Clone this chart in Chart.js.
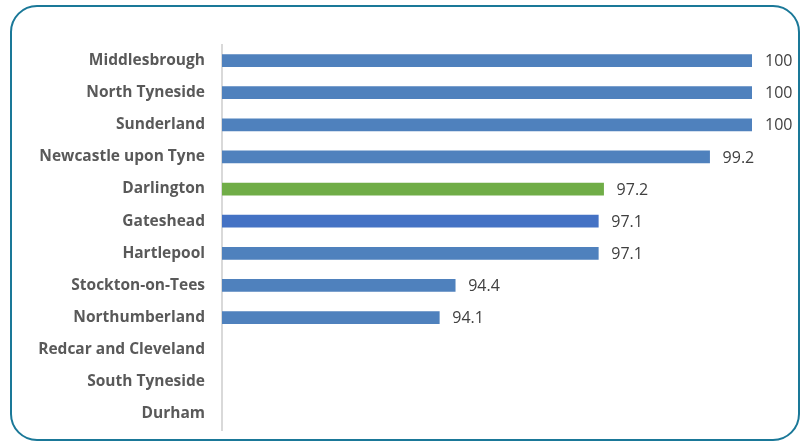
<!DOCTYPE html>
<html>
<head>
<meta charset="utf-8">
<script src="https://cdn.jsdelivr.net/npm/chart.js@4/dist/chart.umd.min.js"></script>
<style>
  html, body { margin: 0; padding: 0; background: #ffffff; }
  #wrap { position: relative; width: 800px; height: 442px; }
</style>
</head>
<body>
<div id="wrap"><canvas id="bar" width="800" height="442"></canvas></div>
<script>
// local authorities, top to bottom
var areas = [
  "Middlesbrough",
  "North Tyneside",
  "Sunderland",
  "Newcastle upon Tyne",
  "Darlington",
  "Gateshead",
  "Hartlepool",
  "Stockton-on-Tees",
  "Northumberland",
  "Redcar and Cleveland",
  "South Tyneside",
  "Durham"
];

// percentage values (no data for the last three)
var values = [100, 100, 100, 99.2, 97.2, 97.1, 97.1, 94.4, 94.1, null, null, null];

// bar colours per row
var barColours = [
  "#4f81bd", "#4f81bd", "#4f81bd", "#4f81bd",
  "#70ad47", "#4472c4", "#4f81bd", "#4f81bd",
  "#4f81bd", "#4f81bd", "#4f81bd", "#4f81bd"
];

// rounded frame round the chart
var framePlugin = {
  id: "frame",
  beforeDraw: function (chart) {
    var ctx = chart.ctx;
    ctx.save();
    ctx.strokeStyle = "#1a7898";
    ctx.lineWidth = 2;
    ctx.beginPath();
    ctx.roundRect(11, 6, 788, 434, 26);
    ctx.stroke();
    ctx.restore();
  }
};

// value labels at the end of each bar
var valueLabels = {
  id: "valueLabels",
  afterDatasetsDraw: function (chart) {
    var ctx = chart.ctx;
    var meta = chart.getDatasetMeta(0);
    ctx.save();
    ctx.font = "16px 'Open Sans', sans-serif";
    ctx.fillStyle = "#404040";
    ctx.textAlign = "left";
    ctx.textBaseline = "middle";
    for (var i = 0; i < values.length; i++) {
      if (values[i] === null) continue;
      var bar = meta.data[i];
      ctx.fillText(String(values[i]), bar.x + 13, bar.y + 1);
    }
    ctx.restore();
  }
};

var ctx = document.getElementById("bar").getContext("2d");
var chart = new Chart(ctx, {
  type: "bar",
  data: {
    labels: areas,
    datasets: [
      {
        data: values,
        backgroundColor: barColours,
        barThickness: 12
      }
    ]
  },
  options: {
    indexAxis: "y",
    responsive: false,
    animation: false,
    layout: {
      padding: { top: 44.5, right: 48, bottom: 12, left: 0 }
    },
    plugins: {
      legend: { display: false },
      tooltip: { enabled: false }
    },
    scales: {
      x: {
        display: false,
        min: 90,
        max: 100
      },
      y: {
        grid: { display: false },
        border: { color: "#d9d9d9", width: 2 },
        ticks: {
          color: "#595959",
          padding: 9,
          font: { family: "'Open Sans', sans-serif", size: 15.5, weight: "bold" }
        },
        afterFit: function (scale) {
          scale.width = 222;
          // keep the label padding from shrinking the plot area
          scale.paddingTop = 0;
          scale.paddingBottom = 0;
        }
      }
    }
  },
  plugins: [framePlugin, valueLabels]
});
</script>
</body>
</html>
